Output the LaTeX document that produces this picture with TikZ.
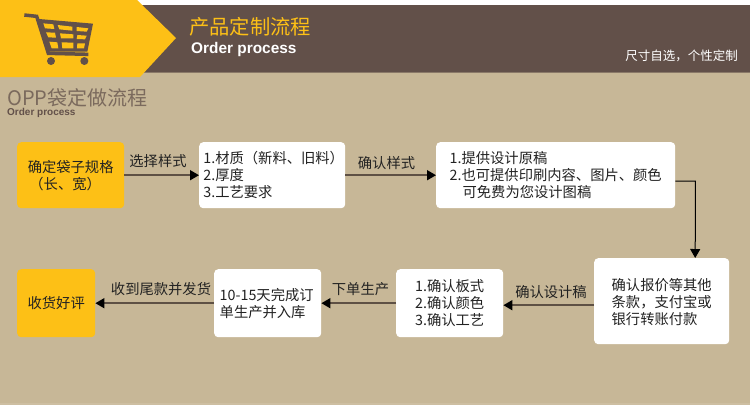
\documentclass[tikz,border=0pt]{standalone}
\usepackage{fontspec}
\usetikzlibrary{arrows.meta}
\setmainfont{Noto Sans CJK SC}
\newfontfamily\latinbold{Liberation Sans Bold}
\definecolor{bgc}{HTML}{C7B797}
\definecolor{brownc}{HTML}{625049}
\definecolor{yellowc}{HTML}{FDC016}
\definecolor{linec}{HTML}{5E5044}
\definecolor{txtc}{HTML}{222222}
\newcommand{\fs}[1]{\fontsize{#1pt}{17pt}\selectfont}
\tikzset{
  x=1pt,y=-1pt,
  boxbase/.style={rounded corners=4pt,anchor=north west,inner sep=0pt,text=txtc,align=left,font=\fs{14.3}},
  whitebox/.style={boxbase,fill=white},
  yellowbox/.style={boxbase,fill=yellowc,align=center},
  flowarrow/.style={draw=linec,line width=1.6pt,-{Triangle[length=9pt,width=10pt,black]}},
  elbowarrow/.style={draw=black,line width=1pt,-{Triangle[length=9pt,width=10pt,black]}},
  flowlabel/.style={text=txtc,font=\fs{14.3},inner sep=0pt},
}
\begin{document}
\begin{tikzpicture}
\useasboundingbox (0,0) rectangle (750,405);
\fill[bgc] (0,0) rectangle (750,405);
\fill[bgc!90!white] (0,403) rectangle (750,405);
\fill[white] (0,0) rectangle (750,5);
\fill[brownc] (130,5) rectangle (750,72);
\fill[brownc!60!bgc] (130,72) rectangle (750,73);
\fill[yellowc] (0,0) -- (137,0) -- (176,38) -- (140,77) -- (0,77) -- cycle;
% cart, in the coordinates of a 3x crop
\begin{scope}[shift={(15,5)},x=0.33333pt,y=-0.33333pt]
\draw[brownc,line width=3.5pt] (28,30) -- (65,34) -- (100,145) -- (220,148);
\fill[brownc] (72,42) -- (234,56) -- (217,140) -- (100,140) -- cycle;
\fill[yellowc] (85,55) -- (115,58) -- (118,72) -- (90,70) -- cycle;
\fill[yellowc] (128,60) -- (172,65) -- (172,77) -- (133,73) -- cycle;
\fill[yellowc] (185,66) -- (220,70) -- (215,80) -- (185,78) -- cycle;
\fill[yellowc] (93,82) -- (120,83) -- (123,98) -- (100,97) -- cycle;
\fill[yellowc] (135,85) -- (175,88) -- (175,100) -- (138,100) -- cycle;
\fill[yellowc] (187,90) -- (215,92) -- (210,103) -- (185,102) -- cycle;
\fill[yellowc] (103,110) -- (127,112) -- (130,130) -- (110,130) -- cycle;
\fill[yellowc] (140,112) -- (175,113) -- (175,130) -- (142,130) -- cycle;
\fill[yellowc] (187,115) -- (210,115) -- (207,130) -- (186,130) -- cycle;
\fill[brownc] (108,168) circle (12) (208,168) circle (12);
\end{scope}
% header text
\node[anchor=west,inner sep=0pt,text=yellowc,font=\fs{20.3}] (title) at (189,27) {产品定制流程};
\node[anchor=west,inner sep=0pt,text=white,font=\latinbold\fs{15.4}] (titleen) at (191,49.5) {Order process};
\node[anchor=east,inner sep=0pt,text=white,font=\fs{12.5}] (note) at (738,55.5) {尺寸自选，个性定制};
\node[anchor=west,inner sep=0pt,text=brownc!75!bgc,font=\fs{20}] (sub) at (7,98) {OPP袋定做流程};
\node[anchor=west,inner sep=0pt,text=brownc,font=\latinbold\fs{10}] (suben) at (7,113) {Order process};
% boxes
\node[yellowbox,minimum width=107pt,minimum height=66pt] (y1) at (17,142) {确定袋子规格\\（长、宽）\hspace*{11pt}};
\node[whitebox,minimum width=146pt,minimum height=66pt] (w1) at (199,142) {\hspace*{3pt}1.材质（新料、旧料）\\\hspace*{3pt}2.厚度\\\hspace*{3pt}3.工艺要求};
\node[whitebox,minimum width=239pt,minimum height=66pt] (w2) at (436,142) {1.提供设计原稿\\2.也可提供印刷内容、图片、颜色\\\hspace*{13pt}可免费为您设计图稿};
\node[whitebox,minimum width=135pt,minimum height=86pt] (w3) at (594,258) {\rule{0pt}{13pt}确认报价等其他\\条款，支付宝或\\银行转账付款};
\node[whitebox,minimum width=107pt,minimum height=68pt] (w4) at (396,269) {1.确认板式\\2.确认颜色\\3.确认工艺};
\node[whitebox,minimum width=107pt,minimum height=68pt] (w5) at (214,269) {10-15天完成订\hspace*{2pt}\\单生产并入库};
\node[yellowbox,minimum width=78pt,minimum height=68pt] (y2) at (17,269) {收货好评};
% connectors
\draw[flowarrow] (y1) -- (w1);
\draw[flowarrow] (w1) -- (w2);
\draw[elbowarrow] ([yshift=-6pt]w2.east) -- ++(20,0) -- ([xshift=33.5pt]w3.north);
\draw[flowarrow] ([yshift=-4pt]w3.west) -- ([yshift=-2pt]w4.east);
\draw[flowarrow] (w4) -- (w5);
\draw[flowarrow] (w5) -- (y2);
% labels
\node[flowlabel] (l1) at (158,161) {选择样式};
\node[flowlabel] (l2) at (386.5,163) {确认样式};
\node[flowlabel] (l3) at (551,292) {确认设计稿};
\node[flowlabel] (l4) at (360.5,289) {下单生产};
\node[flowlabel] (l5) at (161,289) {收到尾款并发货};
\end{tikzpicture}
\end{document}
